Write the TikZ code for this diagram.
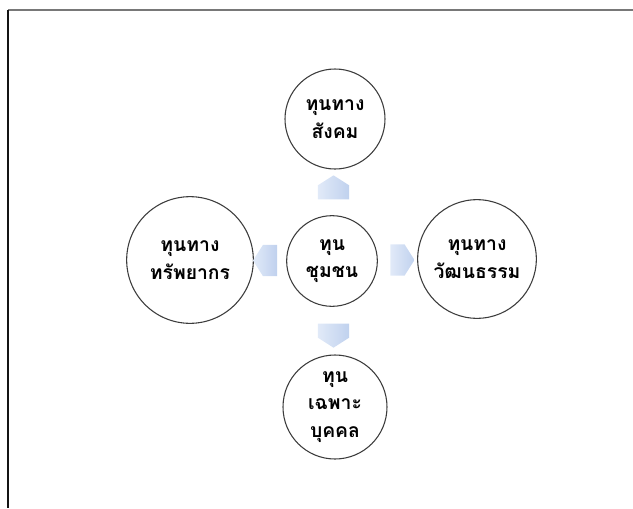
\documentclass[tikz,border=0pt]{standalone}
\usepackage{fontspec}
\usepackage{tikz}
\usetikzlibrary{shapes.arrows,calc}
\newfontfamily\thaifont[Script=Thai]{Loma}
\usepackage{xcolor}

\tikzset{
  capital/.style={circle, draw={rgb, 255:red, 60; green, 60; blue, 60}, line width=0.8, fill=white,
    align=center, inner sep=0.75pt, font=\thaifont\bfseries\fontsize{14.5}{20.5}\selectfont},
  blockarrow/.style={single arrow, draw=none, inner sep=0pt, minimum height=18, minimum width=23.5,
    single arrow head extend=0pt, single arrow tip angle=115,
    left color={rgb, 255:red, 225; green, 234; blue, 248}, right color={rgb, 255:red, 192; green, 209; blue, 238}}
}

\begin{document}
\begin{tikzpicture}[x=0.75pt,y=0.75pt,yscale=-1,xscale=1]
\useasboundingbox (0,0) rectangle (633,508);

%Frame Lines
\coordinate (frameTL) at (8,10);
\coordinate (frameTR) at (633,10);
\coordinate (frameBL) at (8,508);
\draw [color={rgb, 255:red, 120; green, 120; blue, 120 }, line width=1.5] (frameTL) -- (frameTR) ;
\draw [color={rgb, 255:red, 20; green, 20; blue, 20 }, line width=1.2] (frameTL) -- (frameBL) ;

%Circles
\node [capital, minimum size=68] (community) at (332,261) {ทุน\\ชุมชน};
\node [capital, minimum size=75] (social) at (335,119) {ทุนทาง\\สังคม};
\node [capital, minimum size=89] (culture) at (477,259) {ทุนทาง\\วัฒนธรรม};
\node [capital, minimum size=78] (personal) at (335,407) {ทุน\\เฉพาะ\\บุคคล};
\node [capital, minimum size=95] (resource) at (190,260) {ทุนทาง\\ทรัพยากร};

%Block Arrows
\node [blockarrow, rotate=90] (toSocial) at ($(community.north)!0.5!(social.south)$) {};
\node [blockarrow, rotate=0] (toCulture) at ($(community.east)!0.5!(culture.west)$) {};
\node [blockarrow, rotate=-90] (toPersonal) at ($(community.south)!0.5!(personal.north)$) {};
\node [blockarrow, rotate=180] (toResource) at ($(community.west)!0.5!(resource.east)$) {};

\end{tikzpicture}
\end{document}
